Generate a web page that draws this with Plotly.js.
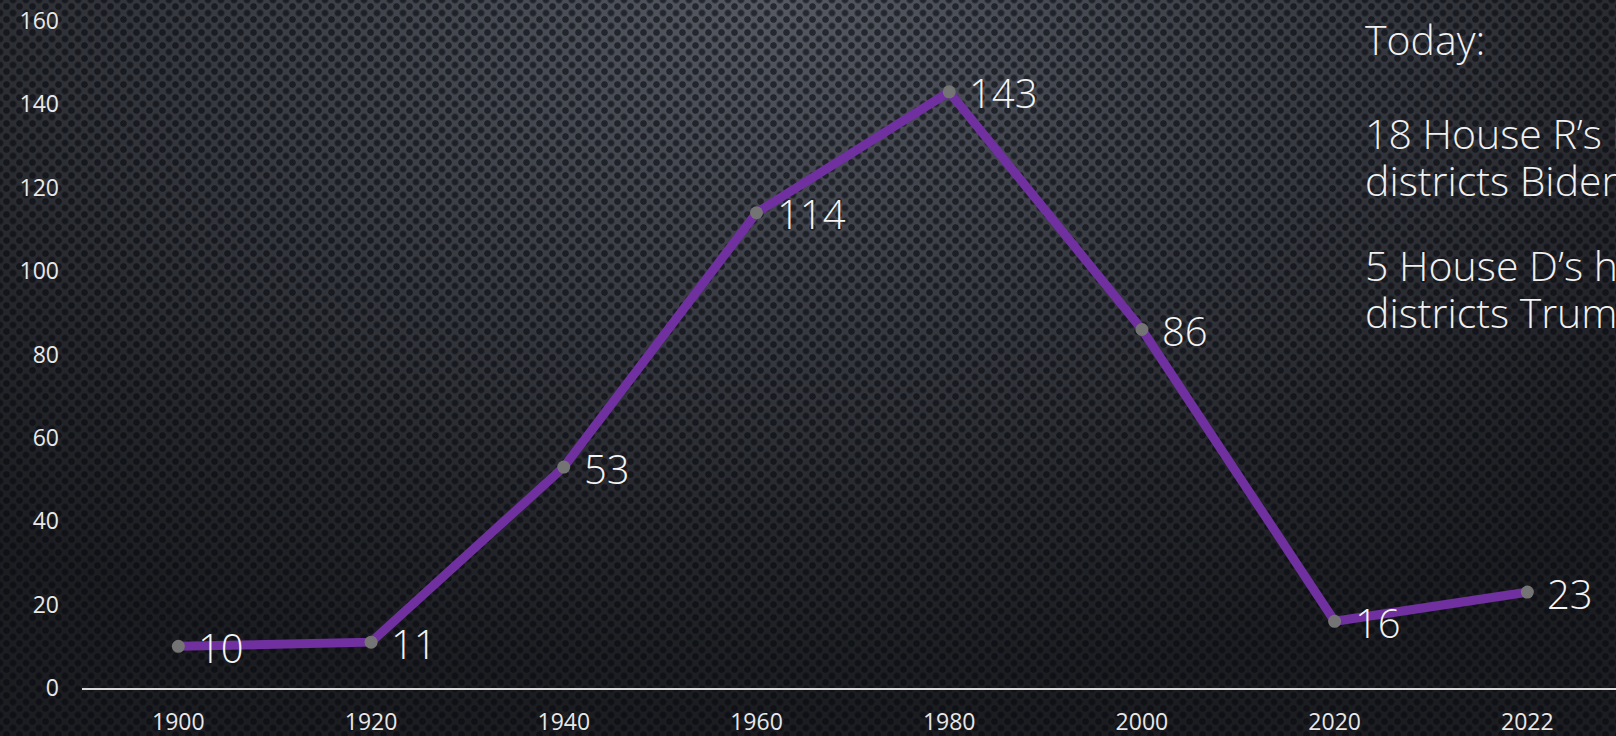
<!DOCTYPE html>
<html>
<head>
<meta charset="utf-8">
<script src="https://cdn.plot.ly/plotly-3.0.1.min.js"></script>
<style>
  html, body { margin:0; padding:0; width:1616px; height:736px; overflow:hidden; }
  body {
    background-color:#25272c;
    background-image:
      radial-gradient(circle, rgba(6,8,14,0.6) 2.8px, rgba(6,8,14,0) 3.8px),
      radial-gradient(circle, rgba(6,8,14,0.6) 2.8px, rgba(6,8,14,0) 3.8px),
      radial-gradient(ellipse 75% 95% at 48% 0%, #555962 0%, #3c3f46 40%, #25272c 75%, #1c1d21 100%);
    background-size: 13px 13px, 13px 13px, 100% 100%;
    background-position: 0 0, 6.5px 6.5px, 0 0;
  }
  #chart { width:1616px; height:736px; }
</style>
</head>
<body>
<div id="chart"></div>
<script>
// ---- data ----
const years  = ["1900", "1920", "1940", "1960", "1980", "2000", "2020", "2022"];
const counts = [10, 11, 53, 114, 143, 86, 16, 23];
const yTicks = [0, 20, 40, 60, 80, 100, 120, 140, 160];
const noteLines = [
  "Today:",
  "18 House R\u2019s hold",
  "districts Biden won",
  "5 House D\u2019s hold",
  "districts Trump won"
];

// ---- layout helpers ----
const W = 1616, H = 736;
const M = {l: 82, r: 0, t: 21, b: 48};
const px2paperX = px => (px - M.l) / (W - M.l - M.r);
const px2paperY = py => 1 - (py - M.t) / (H - M.t - M.b);

const labelFont = {family: "Open Sans, sans-serif", size: 40, color: "#f4f4f4", weight: 300};
const tickFont  = {family: "Open Sans, sans-serif", size: 23, color: "#e8e8e8"};

const trace = {
  x: years,
  y: counts,
  type: "scatter",
  mode: "lines+markers",
  line: {color: "#7030a0", width: 9},
  marker: {color: "#747474", size: 13},
  hoverinfo: "skip",
  cliponaxis: false
};

// category axes take the category's index as annotation position
const annotations = years.map((yr, i) => ({
  x: i, y: counts[i], xref: "x", yref: "y",
  text: String(counts[i]),
  showarrow: false, xanchor: "left", yanchor: "middle",
  xshift: 18, yshift: -1,
  font: labelFont
}));

const notePy = [39, 133, 180, 265, 312];
noteLines.forEach((t, i) => {
  annotations.push({
    x: px2paperX(1363), y: px2paperY(notePy[i]), xref: "paper", yref: "paper",
    text: t, showarrow: false, xanchor: "left", yanchor: "middle",
    font: {family: "Open Sans, sans-serif", size: 41, color: "#f0f0f0", weight: 300}
  });
});

const layout = {
  width: W, height: H,
  margin: M,
  paper_bgcolor: "rgba(0,0,0,0)",
  plot_bgcolor: "rgba(0,0,0,0)",
  showlegend: false,
  xaxis: {
    type: "category",
    range: [-0.5, 7.46],
    showline: true, linecolor: "#d9d9d9", linewidth: 2,
    showgrid: false, zeroline: false,
    ticks: "", ticklabelstandoff: 12,
    tickfont: tickFont,
    fixedrange: true
  },
  yaxis: {
    range: [0, 160],
    tickvals: yTicks,
    ticktext: yTicks.map(String),
    showline: false, showgrid: false, zeroline: false,
    ticks: "", ticklabelstandoff: 22,
    tickfont: tickFont,
    fixedrange: true
  },
  annotations: annotations
};

Plotly.newPlot("chart", [trace], layout, {displayModeBar: false, staticPlot: true});
</script>
</body>
</html>
